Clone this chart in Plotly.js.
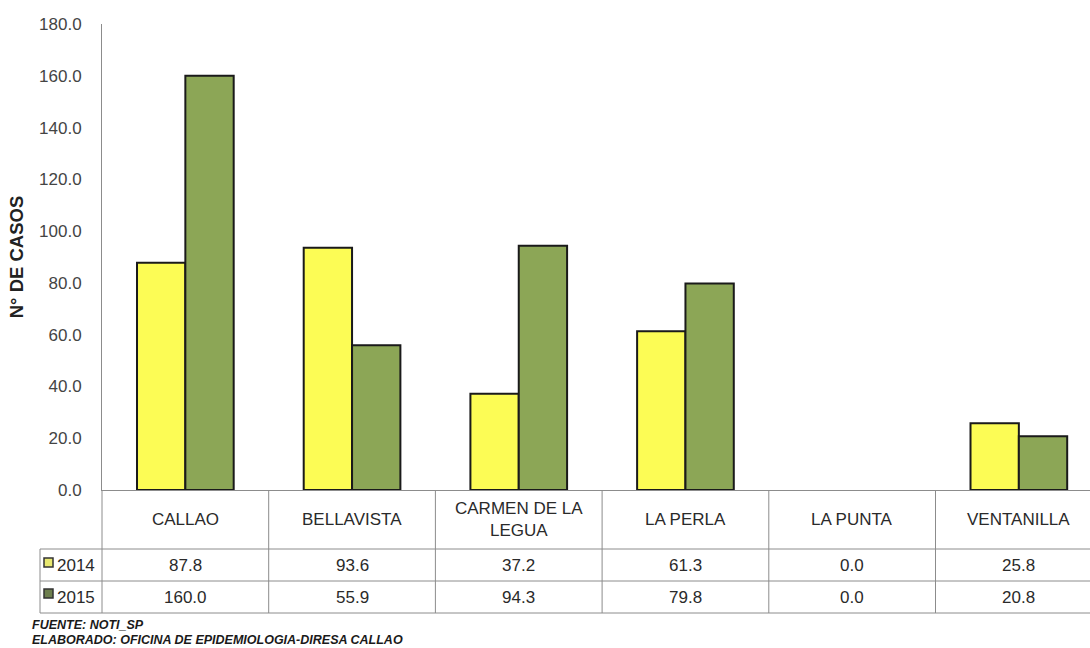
<!DOCTYPE html>
<html>
<head>
<meta charset="utf-8">
<script src="https://cdn.plot.ly/plotly-3.0.1.min.js"></script>
<style>
  html, body { margin: 0; padding: 0; background: #ffffff; }
  #chart { width: 1090px; height: 648px; }
</style>
</head>
<body>
<div id="chart"></div>
<script>
// ---- data ----
const categories = ["CALLAO", "BELLAVISTA", "CARMEN DE LA LEGUA", "LA PERLA", "LA PUNTA", "VENTANILLA"];
const categoryLabels = ["CALLAO", "BELLAVISTA", "CARMEN DE LA<br>LEGUA", "LA PERLA", "LA PUNTA", "VENTANILLA"];
const seriesNames = ["2014", "2015"];
const values2014 = [87.8, 93.6, 37.2, 61.3, 0.0, 25.8];
const values2015 = [160.0, 55.9, 94.3, 79.8, 0.0, 20.8];
const yTicks = [0, 20, 40, 60, 80, 100, 120, 140, 160, 180];

// ---- geometry (pixels) ----
const W = 1090, H = 648;
const plotLeft = 102, plotTop = 24, plotBottom = 490, plotRight = 1090;
const plotW = plotRight - plotLeft, plotH = plotBottom - plotTop;
const px2x = p => (p - plotLeft) / plotW;
const py2y = p => (plotBottom - p) / plotH;

const colors = ["#FCFC55", "#8CA656"];
const keyColors = ["#E8E870", "#6E7F4E"];
const lineColor = "#8c8c8c";
const textColor = "#2a2a2a";
const FONT = "Liberation Sans, Arial, sans-serif";

const traces = [values2014, values2015].map((vals, i) => ({
  type: "bar",
  name: seriesNames[i],
  x: categories,
  y: vals,
  marker: {
    color: colors[i],
    line: { color: "#1a1a1a", width: vals.map(v => (v > 0 ? 2 : 0)) }
  },
  hoverinfo: "x+y+name"
}));

// table rows (pixel)
const rowCatTop = 490, rowCatBot = 549, row1Bot = 581, row2Bot = 613;
const tableLeft = 40;

const shapes = [];
[rowCatBot, row1Bot, row2Bot].forEach(py => {
  shapes.push({ type: "line", xref: "paper", yref: "paper",
    x0: px2x(tableLeft), x1: 1.02, y0: py2y(py), y1: py2y(py),
    line: { color: lineColor, width: 1 } });
});
shapes.push({ type: "line", xref: "paper", yref: "paper",
  x0: px2x(tableLeft), x1: px2x(tableLeft), y0: py2y(rowCatBot), y1: py2y(row2Bot),
  line: { color: lineColor, width: 1 } });
shapes.push({ type: "line", xref: "paper", yref: "paper",
  x0: 0, x1: 0, y0: 0, y1: py2y(row2Bot),
  line: { color: lineColor, width: 1 } });
for (let i = 0; i < categories.length; i++) {
  shapes.push({ type: "line", xref: "x", yref: "paper",
    x0: i + 0.5, x1: i + 0.5, y0: 0, y1: py2y(row2Bot),
    line: { color: lineColor, width: 1 } });
}
[0, 1].forEach(i => {
  const top = i === 0 ? 558 : 589;
  shapes.push({ type: "rect", xref: "paper", yref: "paper",
    x0: px2x(44), x1: px2x(53), y0: py2y(top), y1: py2y(top + 9),
    fillcolor: keyColors[i], line: { color: "#333333", width: 1.5 } });
});

const annotations = [];
const tableFont = { family: FONT, size: 17, color: textColor };
const mid = (a, b) => py2y((a + b) / 2);
categories.forEach((c, i) => {
  annotations.push({ xref: "x", yref: "paper", x: i, y: mid(rowCatTop, rowCatBot),
    xanchor: "center", yanchor: "middle",
    text: categoryLabels[i], showarrow: false, font: tableFont, align: "center" });
  annotations.push({ xref: "x", yref: "paper", x: i, y: mid(rowCatBot, row1Bot),
    xanchor: "center", yanchor: "middle",
    text: values2014[i].toFixed(1), showarrow: false, font: tableFont });
  annotations.push({ xref: "x", yref: "paper", x: i, y: mid(row1Bot, row2Bot),
    xanchor: "center", yanchor: "middle",
    text: values2015[i].toFixed(1), showarrow: false, font: tableFont });
});
seriesNames.forEach((s, i) => {
  const y = i === 0 ? mid(rowCatBot, row1Bot) : mid(row1Bot, row2Bot);
  annotations.push({ xref: "paper", yref: "paper", x: px2x(55), y: y,
    xanchor: "left", yanchor: "middle", text: s, showarrow: false, font: tableFont });
});
const footFont = { family: FONT, size: 12.5, color: "#1a1a1a" };
annotations.push({ xref: "paper", yref: "paper", x: px2x(30), y: py2y(625), xanchor: "left", yanchor: "middle",
  text: "<b><i>FUENTE: NOTI_SP</i></b>", showarrow: false, font: footFont });
annotations.push({ xref: "paper", yref: "paper", x: px2x(30), y: py2y(640), xanchor: "left", yanchor: "middle",
  text: "<b><i>ELABORADO: OFICINA DE EPIDEMIOLOGIA-DIRESA CALLAO</i></b>", showarrow: false, font: footFont });

const layout = {
  width: W, height: H,
  margin: { l: plotLeft, r: W - plotRight, t: plotTop, b: H - plotBottom, pad: 0 },
  paper_bgcolor: "#ffffff",
  plot_bgcolor: "#ffffff",
  showlegend: false,
  barmode: "group",
  bargap: 0.42,
  bargroupgap: 0,
  xaxis: {
    type: "category",
    categoryorder: "array",
    categoryarray: categories,
    range: [-0.5, -0.5 + plotW / 166.7],
    showticklabels: false,
    ticks: "",
    showgrid: false,
    zeroline: false,
    showline: true,
    linecolor: lineColor,
    linewidth: 1,
    fixedrange: true
  },
  yaxis: {
    range: [0, 180],
    tickvals: yTicks,
    ticktext: yTicks.map(v => v.toFixed(1)),
    ticks: "",
    ticklabelstandoff: 16,
    showgrid: false,
    zeroline: false,
    showline: true,
    linecolor: lineColor,
    linewidth: 1,
    tickfont: { family: FONT, size: 17, color: "#444444" },
    title: { text: "<b>N° DE CASOS</b>", standoff: 10,
      font: { family: FONT, size: 18.5, color: "#222222" } },
    automargin: false,
    fixedrange: true
  },
  shapes: shapes,
  annotations: annotations
};

Plotly.newPlot("chart", traces, layout, { displayModeBar: false, staticPlot: true });
</script>
</body>
</html>
